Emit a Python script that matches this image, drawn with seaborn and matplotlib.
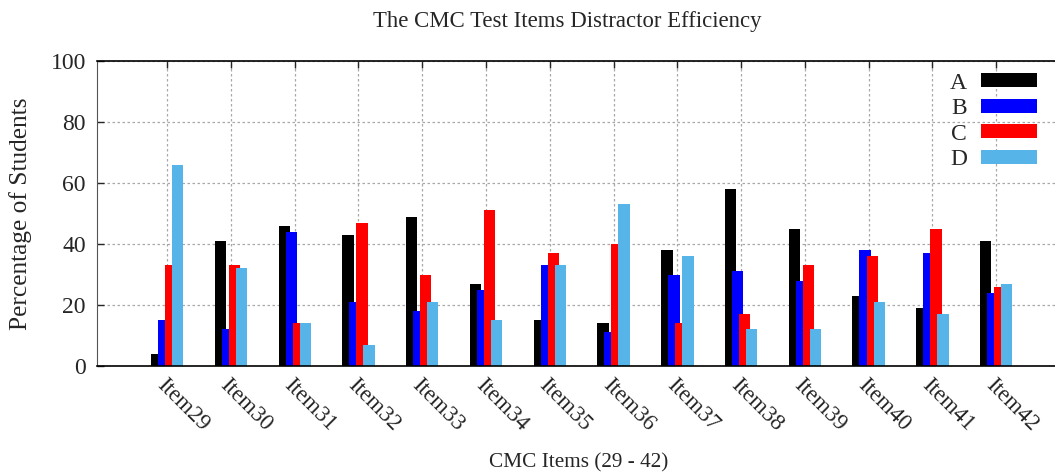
import numpy as np
import matplotlib
matplotlib.use("Agg")
import matplotlib.pyplot as plt
import seaborn as sns

# ── Data ────────────────────────────────────────────────────────
items = ["Item29", "Item30", "Item31", "Item32", "Item33", "Item34", "Item35",
         "Item36", "Item37", "Item38", "Item39", "Item40", "Item41", "Item42"]
option_a = [4, 41, 46, 43, 49, 27, 15, 14, 38, 58, 45, 23, 19, 41]
option_b = [15, 12, 44, 21, 18, 25, 33, 11, 30, 31, 28, 38, 37, 24]
option_c = [33, 33, 14, 47, 30, 51, 37, 40, 14, 17, 33, 36, 45, 26]
option_d = [66, 32, 14, 7, 21, 15, 33, 53, 36, 12, 12, 21, 17, 27]
series_names = ["A", "B", "C", "D"]
y_ticks = [0, 20, 40, 60, 80, 100]

series = [option_a, option_b, option_c, option_d]
colors = ["#000000", "#0000ff", "#ff0000", "#56b4e9"]
offsets = [-0.165, -0.055, 0.055, 0.165]   # overlapping gnuplot-style bars
bar_width = 0.178

sns.set_style("ticks")
plt.rcParams["font.family"] = ["Liberation Serif", "DejaVu Serif"]

fig = plt.figure(figsize=(10.55, 4.74), dpi=100)
ax = fig.add_axes([97 / 1055, 1 - 366 / 474, 963 / 1055, 305 / 474])

pos = np.arange(len(items))
for vals, name, col, off in zip(series, series_names, colors, offsets):
    sns.barplot(x=pos + off, y=vals, native_scale=True, width=bar_width,
                color=col, saturation=1, errorbar=None, label=name, ax=ax,
                linewidth=0)

ax.set_xlim(-1.1, 14)
ax.set_ylim(0, 100)
ax.set_xticks(pos)
ax.set_xticklabels(items, rotation=-45, ha="left", va="top",
                   rotation_mode="anchor", fontsize=16.5)
ax.set_yticks(y_ticks)
ax.set_yticklabels([str(t) for t in y_ticks], fontsize=17)

ax.grid(True, color="#a8a8a8", linestyle=(0, (2, 2)), linewidth=0.9)
ax.set_axisbelow(True)
ax.tick_params(axis="x", top=True, bottom=False, direction="in", length=5,
               width=1, pad=6, labelbottom=True)
ax.tick_params(axis="y", left=True, right=False, direction="in", length=5,
               width=1, pad=8)
for side in ["top", "bottom"]:
    ax.spines[side].set_color("black")
    ax.spines[side].set_linewidth(1.2)
ax.spines["left"].set_color("#555555")
ax.spines["right"].set_visible(False)

ax.set_ylabel("Percentage of Students", fontsize=18.3, labelpad=13)
ax.set_xlabel("CMC Items (29 - 42)", fontsize=15.3, labelpad=13)
fig.text(567 / 1055, 1 - 21 / 474, "The CMC Test Items Distractor Efficiency",
         ha="center", va="center", fontsize=16.4)

leg = ax.legend(loc="upper right", bbox_to_anchor=((1046 - 97) / 963, 0.993),
                frameon=False, markerfirst=False, fontsize=17,
                handlelength=2.35, handleheight=0.55, handletextpad=0.6,
                labelspacing=0.19, borderaxespad=0.0)

fig.savefig("out.png", dpi=100)
